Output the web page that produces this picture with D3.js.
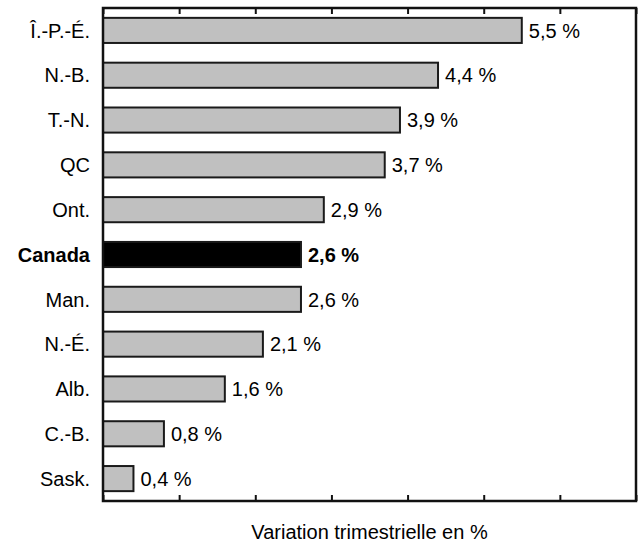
<!DOCTYPE html>
<html>
<head>
<meta charset="utf-8">
<script src="https://cdn.jsdelivr.net/npm/d3@7"></script>
<style>
  body { margin: 0; background: #fff; }
  text { font-family: "Liberation Sans", Arial, sans-serif; }
</style>
</head>
<body>
<script>
// data
const provinces = ["Î.-P.-É.", "N.-B.", "T.-N.", "QC", "Ont.", "Canada", "Man.", "N.-É.", "Alb.", "C.-B.", "Sask."];
const values = [5.5, 4.4, 3.9, 3.7, 2.9, 2.6, 2.6, 2.1, 1.6, 0.8, 0.4];
const tickValues = [0, 1, 2, 3, 4, 5, 6, 7];
const highlight = "Canada";
const axisTitle = "Variation trimestrielle en %";

const data = provinces.map((p, i) => ({ name: p, value: values[i] }));

const width = 639, height = 544;
const margin = { top: 8, right: 3, bottom: 43, left: 103 };
const fontSize = 20;

const svg = d3.select("body").append("svg")
    .attr("width", width)
    .attr("height", height);

const x = d3.scaleLinear()
    .domain([0, 7])
    .range([margin.left, width - margin.right]);

const y = d3.scaleBand()
    .domain(provinces)
    .range([margin.top, height - margin.bottom])
    .paddingInner(0.44)
    .paddingOuter(0.22);

// bars
svg.append("g")
    .selectAll("rect")
    .data(data)
    .join("rect")
    .attr("x", x(0))
    .attr("y", d => y(d.name))
    .attr("width", d => x(d.value) - x(0))
    .attr("height", y.bandwidth())
    .attr("fill", d => d.name === highlight ? "#000" : "#c0c0c0")
    .attr("stroke", "#1a1a1a")
    .attr("stroke-width", 2);

// value labels
svg.append("g")
    .selectAll("text")
    .data(data)
    .join("text")
    .attr("x", d => x(d.value) + 7)
    .attr("y", d => y(d.name) + y.bandwidth() / 2)
    .attr("dy", "0.36em")
    .attr("font-size", fontSize)
    .attr("font-weight", d => d.name === highlight ? "bold" : null)
    .text(d => d3.format(".1f")(d.value).replace(".", ",") + " %");

// category labels
svg.append("g")
    .selectAll("text")
    .data(data)
    .join("text")
    .attr("x", margin.left - 13)
    .attr("y", d => y(d.name) + y.bandwidth() / 2)
    .attr("dy", "0.36em")
    .attr("text-anchor", "end")
    .attr("font-size", fontSize)
    .attr("font-weight", d => d.name === highlight ? "bold" : null)
    .text(d => d.name);

// inward ticks top and bottom
const yBottom = height - margin.bottom;
svg.append("g")
    .attr("transform", `translate(0,${yBottom})`)
    .call(d3.axisTop(x).tickValues(tickValues).tickSize(6).tickFormat(""))
    .call(g => g.select(".domain").remove())
    .call(g => g.selectAll("line").attr("stroke", "#111").attr("stroke-width", 2));

svg.append("g")
    .attr("transform", `translate(0,${margin.top})`)
    .call(d3.axisBottom(x).tickValues(tickValues).tickSize(6).tickFormat(""))
    .call(g => g.select(".domain").remove())
    .call(g => g.selectAll("line").attr("stroke", "#111").attr("stroke-width", 2));

// frame
svg.append("rect")
    .attr("x", x(0))
    .attr("y", margin.top)
    .attr("width", x(7) - x(0))
    .attr("height", yBottom - margin.top)
    .attr("fill", "none")
    .attr("stroke", "#111")
    .attr("stroke-width", 2.5);

// axis title
svg.append("text")
    .attr("x", (x(0) + x(7)) / 2)
    .attr("y", 539)
    .attr("text-anchor", "middle")
    .attr("font-size", fontSize)
    .text(axisTitle);
</script>
</body>
</html>
